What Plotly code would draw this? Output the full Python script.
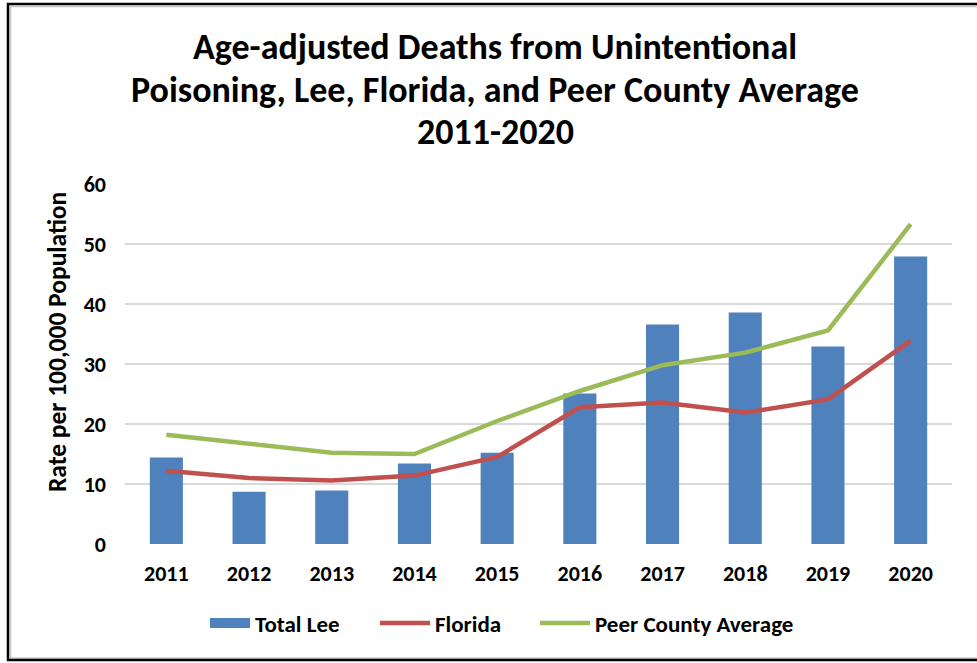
import plotly.graph_objects as go

years = ["2011", "2012", "2013", "2014", "2015", "2016", "2017", "2018", "2019", "2020"]
total_lee = [14.4, 8.7, 8.9, 13.4, 15.2, 25.1, 36.6, 38.6, 32.9, 47.9]
florida = [12.2, 11.0, 10.6, 11.4, 14.5, 22.8, 23.6, 21.9, 24.1, 33.9]
peer_avg = [18.2, 16.7, 15.2, 15.0, 20.5, 25.5, 29.8, 31.9, 35.6, 53.3]
title_lines = ["Age-adjusted Deaths from Unintentional",
               "Poisoning, Lee, Florida, and Peer County Average",
               "2011-2020"]
y_title = "Rate per 100,000 Population"

FONT = "Carlito, Calibri, Lato, Arial, sans-serif"

W, H = 977, 663
L, R, T, B = 125, 25, 184, 119
pw, ph = W - L - R, H - T - B

def px_x(x):
    return (x - L) / pw

def px_y(y):
    return (H - B - y) / ph

BLUE, RED, GREEN = "#4F81BD", "#C0504D", "#9BBB59"

fig = go.Figure()
fig.add_trace(go.Bar(x=years, y=total_lee, name="Total Lee", showlegend=False,
                     legendgroup="lee",
                     marker=dict(color=BLUE, line=dict(width=0))))
# legend entry drawn as a wide rectangle like the original
fig.add_trace(go.Scatter(x=[None], y=[None], name="<b>Total Lee</b>", mode="lines",
                         legendgroup="lee", legend="legend",
                         line=dict(color=BLUE, width=12)))
fig.add_trace(go.Scatter(x=years, y=florida, name="<b>Florida</b>", mode="lines",
                         legend="legend2", line=dict(color=RED, width=4.5)))
fig.add_trace(go.Scatter(x=years, y=peer_avg, name="<b>Peer County Average</b>", mode="lines",
                         legend="legend3", line=dict(color=GREEN, width=4.5)))

annotations = []
for txt, yc in zip(title_lines, [47, 90, 132]):
    annotations.append(dict(text="<b>" + txt + "</b>", xref="paper", yref="paper",
                            x=px_x(495), y=px_y(yc), xanchor="center", yanchor="middle",
                            showarrow=False, font=dict(size=36, family=FONT, color="black")))
annotations.append(dict(text="<b>" + y_title + "</b>", xref="paper", yref="paper",
                        x=px_x(57), y=px_y(342), xanchor="center", yanchor="middle",
                        textangle=-90, showarrow=False,
                        font=dict(size=25.5, family=FONT, color="black")))

def leg(x_px, iw):
    return dict(orientation="h", xref="container", x=x_px / W, xanchor="left",
                yref="container", y=1 - 623 / H, yanchor="middle",
                font=dict(size=23, family=FONT, color="black"),
                itemwidth=iw, bgcolor="rgba(0,0,0,0)")

def seg(x0, y0, x1, y1, color, width):
    return dict(type="line", xref="paper", yref="paper",
                x0=px_x(x0), y0=px_y(y0), x1=px_x(x1), y1=px_y(y1),
                line=dict(color=color, width=width), layer="below")

shapes = [
    # faint inner shadow
    seg(10.5, 6, 10.5, 658, "#C8C8C8", 1.5),
    seg(10, 6.5, 1000, 6.5, "#C8C8C8", 1.5),
    seg(10, 658, 1000, 658, "#C8C8C8", 1.5),
    # outer frame (left, top, bottom)
    seg(8, 3, 8, 661, "black", 2.5),
    seg(7, 4, 1000, 4, "black", 2.5),
    seg(7, 660, 1000, 660, "black", 2.5),
]

fig.update_layout(
    width=W, height=H,
    margin=dict(l=L, r=R, t=T, b=B, autoexpand=False),
    paper_bgcolor="white", plot_bgcolor="white",
    font=dict(family=FONT, color="black", size=22),
    bargap=0.6,
    annotations=annotations,
    xaxis=dict(
        showgrid=False, showline=False, zeroline=False,
        tickfont=dict(size=22, family=FONT, color="black"),
        tickprefix="<b>", ticksuffix="</b>",
        ticklabelstandoff=14,
    ),
    yaxis=dict(
        range=[0, 60], dtick=10, tick0=0,
        showgrid=True, gridcolor="#D9D9D9", gridwidth=1.5,
        zeroline=False, showline=False,
        tickfont=dict(size=22, family=FONT, color="black"),
        tickprefix="<b>", ticksuffix="</b>",
        ticklabelstandoff=18,
    ),
    legend=leg(205, 40),
    legend2=leg(375, 50),
    legend3=leg(535, 50),
    shapes=shapes,
)

fig.write_html("out.html", config={"displayModeBar": False},
               post_script="document.body.style.margin='0';")
